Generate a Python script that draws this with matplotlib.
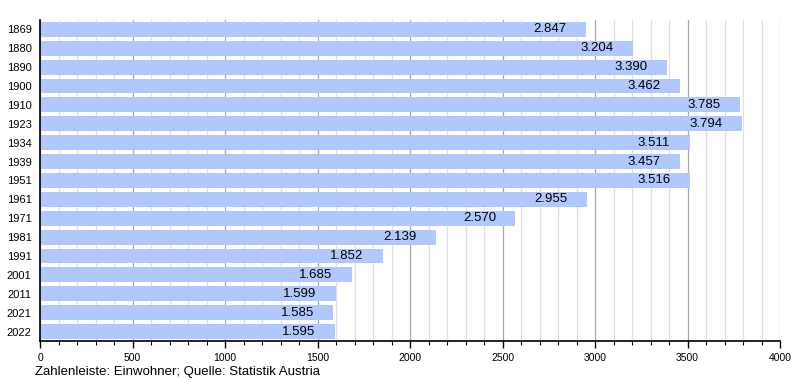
import matplotlib.pyplot as plt
from matplotlib.ticker import MultipleLocator

plt.rcParams['font.family'] = ['Liberation Sans', 'DejaVu Sans']

years = ["1869", "1880", "1890", "1900", "1910", "1923", "1934", "1939", "1951",
         "1961", "1971", "1981", "1991", "2001", "2011", "2021", "2022"]
# bar lengths as drawn in the picture (the 1869 bar is drawn longer than its label)
bar_lengths = [2950, 3204, 3390, 3462, 3785, 3794, 3511, 3457, 3516,
               2955, 2570, 2139, 1852, 1685, 1599, 1585, 1595]
labels = ["2.847", "3.204", "3.390", "3.462", "3.785", "3.794", "3.511", "3.457", "3.516",
          "2.955", "2.570", "2.139", "1.852", "1.685", "1.599", "1.585", "1.595"]

fig = plt.figure(figsize=(8, 3.8), dpi=100)
ax = fig.add_axes([0.05, 0.1026, 0.925, 0.845])

ypos = list(range(len(years)))
ax.barh(ypos, bar_lengths, height=0.79, color="#b0c8fe", zorder=2)
for y, v, lab in zip(ypos, bar_lengths, labels):
    ax.annotate(lab, (v, y), xytext=(-14, 0), textcoords="offset points",
                ha="right", va="center", fontsize=9.5, color="black", zorder=3)

ax.set_ylim(len(years) - 0.5, -0.5)
ax.set_yticks(ypos)
ax.set_yticklabels(years, fontsize=8)
ax.tick_params(axis="y", length=0, pad=6)

ax.set_xlim(0, 4000)
ax.xaxis.set_major_locator(MultipleLocator(500))
ax.xaxis.set_minor_locator(MultipleLocator(100))
ax.tick_params(axis="x", which="major", length=5, width=1, labelsize=7.5, direction="out")
ax.tick_params(axis="x", which="minor", length=3, width=0.8, direction="out")
ax.grid(axis="x", which="major", color="#a8a8a8", linewidth=0.9, zorder=0)
ax.grid(axis="x", which="minor", color="#e0e0e0", linewidth=0.9, zorder=0)
ax.set_axisbelow(True)

for s in ["top", "right"]:
    ax.spines[s].set_visible(False)
ax.spines["left"].set_linewidth(1.2)
ax.spines["bottom"].set_linewidth(1.2)

fig.text(0.044, 0.012, "Zahlenleiste: Einwohner; Quelle: Statistik Austria", fontsize=9.5)

fig.savefig("out.png", dpi=100)
